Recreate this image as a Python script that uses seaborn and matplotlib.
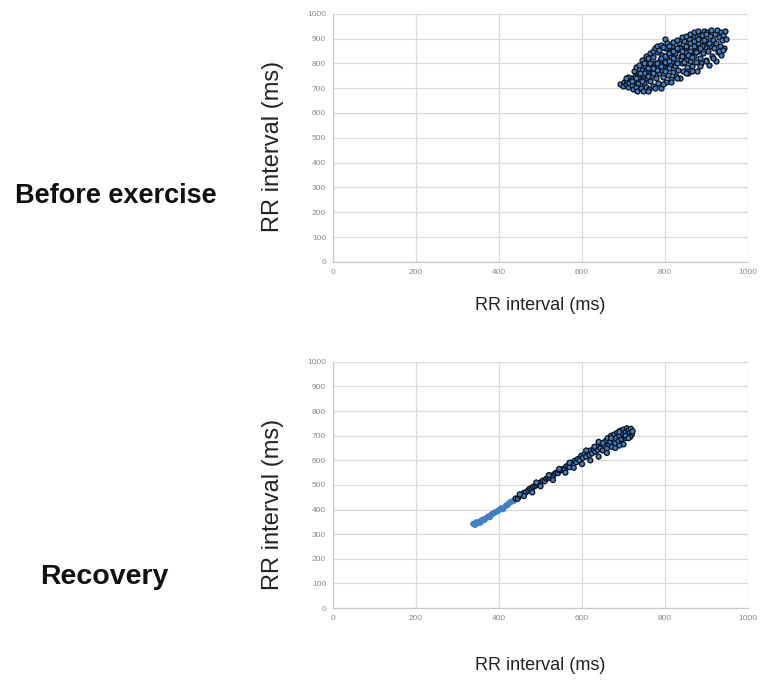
import numpy as np
import pandas as pd
import seaborn as sns
import matplotlib.pyplot as plt

# ----------------------------------------
# data (RRn, RRn+1 in ms)
# ----------------------------------------

before_points = [
    (692, 718), (698, 710), (700, 726), (705, 716), (708, 730), (712, 705), (714, 722), (718, 740), (720, 712), (722, 695),
    (725, 728), (728, 748), (730, 705), (732, 690), (735, 720), (736, 760), (740, 738), (742, 700), (744, 775), (746, 688),
    (748, 752), (750, 720), (752, 790), (755, 705), (757, 740), (758, 810), (760, 765), (762, 695), (765, 730), (766, 785),
    (768, 750), (770, 825), (772, 710), (774, 770), (776, 800), (778, 740), (780, 845), (782, 720), (784, 790), (786, 760),
    (788, 815), (790, 700), (792, 775), (794, 835), (796, 745), (798, 800), (800, 860), (802, 725), (804, 780), (806, 820),
    (808, 755), (810, 845), (812, 795), (814, 735), (816, 870), (818, 810), (820, 765), (822, 835), (824, 790), (826, 750),
    (828, 855), (830, 815), (832, 775), (834, 880), (836, 740), (838, 830), (840, 800), (842, 860), (844, 770), (846, 890),
    (848, 820), (850, 845), (852, 785), (854, 870), (856, 760), (858, 900), (860, 810), (862, 840), (864, 880), (866, 790),
    (868, 915), (870, 830), (872, 860), (874, 805), (876, 895), (878, 770), (880, 850), (882, 920), (884, 820), (886, 875),
    (888, 800), (890, 905), (892, 840), (894, 930), (896, 865), (898, 815), (900, 890), (902, 925), (904, 850), (906, 795),
    (908, 910), (910, 870), (912, 935), (914, 830), (916, 895), (918, 860), (920, 920), (922, 810), (924, 880), (926, 935),
    (928, 845), (930, 905), (932, 870), (934, 925), (936, 835), (938, 895), (940, 915), (942, 860), (944, 930), (946, 900),
    (790, 790), (800, 805), (810, 780), (820, 820), (830, 800), (840, 830), (850, 815), (860, 850), (870, 870), (880, 880),
    (890, 870), (760, 750), (770, 760), (780, 775), (800, 770), (810, 810), (825, 840), (845, 805), (855, 835), (875, 845),
    (885, 860), (895, 895), (905, 880), (735, 745), (745, 730), (755, 770), (765, 800), (815, 850), (835, 860), (865, 825),
    (745, 815), (750, 800), (755, 830), (760, 820), (765, 840), (770, 850), (775, 860), (780, 870), (785, 855), (790, 875),
    (795, 865), (800, 897), (805, 880), (810, 870), (820, 885), (830, 895), (840, 905), (850, 910), (860, 920), (870, 925),
    (880, 930), (725, 770), (730, 785), (738, 795), (712, 745), (705, 740), (760, 690), (775, 700), (795, 715), (815, 725),
    (830, 740), (850, 760), (865, 770), (885, 790), (900, 810), (915, 820), (930, 850), (940, 855), (780, 800), (790, 820),
    (800, 830), (810, 840), (820, 850), (830, 860), (840, 850), (850, 870), (860, 880), (870, 890), (880, 900), (890, 915),
    (900, 920), (770, 780), (760, 780), (750, 760), (740, 760), (730, 740), (720, 730),
]

recovery_points = [
    (338, 342), (342, 338), (345, 348), (348, 344), (352, 350), (355, 347), (358, 356), (362, 360), (365, 358), (370, 366),
    (374, 372), (378, 370), (382, 380), (386, 385), (390, 388), (395, 392), (400, 398), (405, 405), (410, 402), (416, 415),
    (420, 418), (425, 428), (430, 432), (436, 436), (440, 445), (445, 444), (450, 455), (455, 460), (460, 468), (465, 470),
    (470, 478), (474, 485), (478, 482), (482, 492), (486, 495), (490, 500), (494, 505), (498, 508), (502, 512), (506, 518),
    (510, 515), (514, 525), (518, 528), (522, 530), (526, 538), (530, 535), (534, 545), (538, 550), (542, 548), (546, 558),
    (550, 560), (554, 565), (558, 562), (562, 575), (566, 578), (570, 572), (574, 590), (578, 585), (582, 598), (586, 592),
    (590, 605), (594, 600), (598, 618), (602, 610), (606, 625), (610, 615), (614, 630), (618, 622), (620, 640), (624, 628),
    (628, 645), (632, 635), (634, 655), (638, 642), (640, 660), (644, 650), (646, 668), (650, 640), (652, 672), (655, 658),
    (658, 680), (660, 648), (662, 690), (665, 665), (668, 675), (670, 700), (672, 655), (675, 685), (678, 705), (680, 670),
    (682, 690), (685, 712), (688, 678), (690, 700), (692, 720), (695, 685), (698, 708), (700, 725), (702, 695), (705, 715),
    (708, 730), (710, 700), (712, 722), (715, 712), (718, 728), (720, 705), (722, 718), (716, 695), (706, 690), (696, 668),
    (600, 585), (610, 640), (620, 600), (630, 655), (640, 615), (650, 670), (660, 630), (670, 690), (680, 650), (690, 715),
    (700, 665), (705, 700), (712, 690), (690, 660), (640, 675), (580, 570), (570, 590), (560, 550), (545, 565), (530, 520),
    (520, 540), (500, 495), (490, 510), (480, 470), (460, 455), (450, 462),
]

axis_ticks = [0, 200, 400, 600, 800, 1000]
y_ticks = [0, 100, 200, 300, 400, 500, 600, 700, 800, 900, 1000]
panel_titles = ["Before exercise", "Recovery"]
axis_label = "RR interval (ms)"

df_before = pd.DataFrame(before_points, columns=["rr_n", "rr_n1"])
df_recovery = pd.DataFrame(recovery_points, columns=["rr_n", "rr_n1"])

# ----------------------------------------
# plot
# ----------------------------------------

sns.set_style("white")
plt.rcParams['font.family'] = ['Liberation Sans', 'DejaVu Sans']

fig = plt.figure(figsize=(7.64, 6.84), dpi=100)
ax_top = fig.add_axes([0.436, 0.617, 0.543, 0.363])
ax_bot = fig.add_axes([0.436, 0.111, 0.543, 0.360])

FACE = '#3f7fc2'
EDGE = '#0b0f1a'

def draw_panel(ax, df, edges, ylab_y, xlab_y):
    sns.scatterplot(data=df, x="rr_n", y="rr_n1", ax=ax, s=13,
                    color=FACE, edgecolor=edges, linewidth=0.9, zorder=3)
    ax.set_xlim(0, 1000)
    ax.set_ylim(0, 1000)
    ax.set_xticks(axis_ticks)
    ax.set_yticks(y_ticks)
    ax.grid(True, color='#dadada', linewidth=0.9)
    ax.set_axisbelow(True)
    for side in ["top", "right"]:
        ax.spines[side].set_visible(False)
    for side in ["left", "bottom"]:
        ax.spines[side].set_color('#c8c8c8')
        ax.spines[side].set_linewidth(0.9)
    ax.tick_params(length=0, labelsize=6, labelcolor='#8a8a8a', pad=5)
    ax.set_xlabel(axis_label, fontsize=13, color='#222222')
    ax.set_ylabel(axis_label, fontsize=17, color='#222222')
    ax.xaxis.set_label_coords(0.5, xlab_y)
    ax.yaxis.set_label_coords(-0.118, ylab_y)

draw_panel(ax_top, df_before, EDGE, 0.464, -0.14)
rec_edges = [FACE if x < 440 else EDGE for x in df_recovery["rr_n"]]
draw_panel(ax_bot, df_recovery, rec_edges, 0.42, -0.20)

fig.text(0.02, 0.713, panel_titles[0], fontsize=19.5, fontweight='bold', va='center', color='#111111')
fig.text(0.052, 0.156, panel_titles[1], fontsize=20.5, fontweight='bold', va='center', color='#111111')

fig.savefig("out.png", dpi=100)
